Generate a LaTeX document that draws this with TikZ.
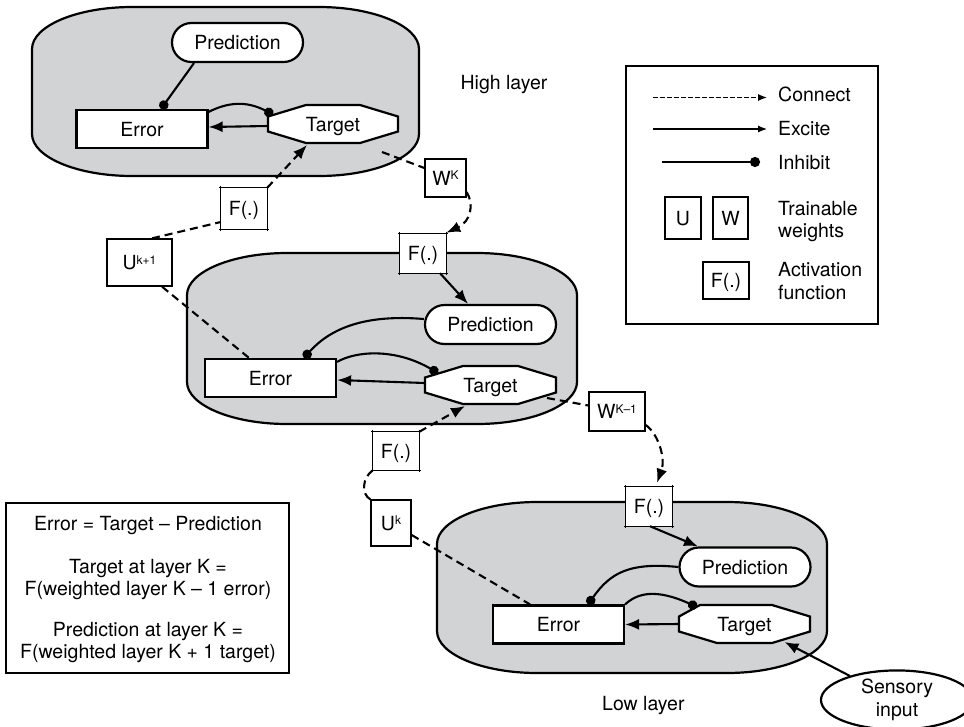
\documentclass[tikz,border=0pt]{standalone}
\usepackage{fontspec}
\setmainfont{TeX Gyre Heros}
\usetikzlibrary{arrows.meta,calc,shapes.misc,shapes.geometric}
\definecolor{layergray}{RGB}{209,211,212}

% small raised index for the weight labels
\newcommand\sups[1]{\raisebox{5.5pt}{\fontsize{12}{12}\selectfont #1}}

% grey layer panel: x0 y0 x1 y1 (y grows downwards)
\newcommand\layershape[4]{%
  \draw[layer] ({#1+100},#2) -- ({#3-100},#2)
    .. controls ({#3-45},#2) and (#3,{#2+19}) .. (#3,{#2+42})
    -- (#3,{#4-42})
    .. controls (#3,{#4-19}) and ({#3-45},#4) .. ({#3-100},#4)
    -- ({#1+100},#4)
    .. controls ({#1+45},#4) and (#1,{#4-19}) .. (#1,{#4-42})
    -- (#1,{#2+42})
    .. controls (#1,{#2+19}) and ({#1+45},#2) .. ({#1+100},#2) -- cycle;}

% octagonal target unit: name, cx, cy, half width, upper-left slant
\newcommand\targetshape[5]{%
  \draw[nodeline, fill=white]
    ({#2-#4+#5},{#3-19}) -- ({#2+#4-38},{#3-19}) -- ({#2+#4},{#3-7.5})
    -- ({#2+#4},{#3+7.5}) -- ({#2+#4-38},{#3+19}) -- ({#2-#4+38},{#3+19})
    -- ({#2-#4},{#3+7.5}) -- ({#2-#4},{#3-7.5}) -- cycle;
  \node[tgtn, minimum width={2*#4pt}] (#1) at (#2,#3) {Target};}

% activation box outline with slightly overshooting corners
\newcommand\actedges[1]{%
  \foreach \a/\b in {north west/north east, north east/south east,
                     south east/south west, south west/north west}
    \draw[line width=1.3pt, shorten <=-2pt, shorten >=-2pt] (#1.\a) -- (#1.\b);}

\begin{document}
\begin{tikzpicture}[x=1pt, y=-1pt,
  every node/.style={font=\fontsize{19.5}{23}\selectfont, inner sep=0pt},
  boxtext/.style={text height=14pt, text depth=0pt},
  nodeline/.style={line width=2.2pt},
  layer/.style={draw, line width=2.2pt, fill=layergray},
  errn/.style={draw, nodeline, fill=white, minimum width=131pt, minimum height=38pt, boxtext},
  predn/.style={rounded rectangle, draw, nodeline, fill=white, minimum width=131pt, minimum height=39pt, boxtext},
  tgtn/.style={minimum height=38pt, boxtext},
  wn/.style={draw, line width=1.3pt, fill=white, boxtext},
  fn/.style={fill=white, boxtext},
  tip/.style={-{Latex[length=14pt,width=11pt]}},
  conn/.style={line width=2.1pt, dash pattern=on 8pt off 5pt},
  excite/.style={line width=2.1pt, tip},
  inhibit/.style={line width=2.1pt, -{Circle[length=9.5pt]}}
]
\useasboundingbox (0,0) rectangle (964,726);

% ---------- layer panels ----------
\layershape{32}{7}{419}{176}
\layershape{187}{253}{577}{424}
\layershape{437}{502}{827}{673}

% ---------- high layer ----------
\node[predn] (p1) at (237.5,42.5) {Prediction};
\node[errn] (e1) at (142,129) {Error};
\targetshape{t1}{333}{124}{65}{38}

% ---------- middle layer ----------
\node[predn] (p2) at (490.5,324.5) {Prediction};
\node[errn] (e2) at (270.5,378) {Error};
\targetshape{t2}{490.5}{385}{65.5}{38}

% ---------- low layer ----------
\node[predn] (p3) at (745,567) {Prediction};
\node[errn] (e3) at (558.5,624.5) {Error};
\targetshape{t3}{744.5}{624}{65.5}{21}

\node[ellipse, draw, nodeline, fill=white, minimum width=152pt, minimum height=56pt, align=center] (sens) at (897,700) {Sensory\\input};

% ---------- weights ----------
\node[wn, minimum width=65pt, minimum height=47pt] (u1) at (139.5,262.5) {U\sups{k+1}};
\node[wn, minimum width=41pt, minimum height=38pt] (w1) at (445.5,178) {W\sups{K}};
\node[wn, minimum width=56pt, minimum height=39pt] (w2) at (617,411.5) {W\sups{K–1}};
\node[wn, minimum width=40pt, minimum height=46pt] (u2) at (391,523) {U\sups{k}};

% ---------- activation functions ----------
\node[fn, minimum width=46pt, minimum height=41pt] (f1) at (244,208.5) {F(.)};
\node[fn, minimum width=46pt, minimum height=39pt] (f2) at (423,253.5) {F(.)};
\node[fn, minimum width=46pt, minimum height=38pt] (f3) at (396,451) {F(.)};
\node[fn, minimum width=46pt, minimum height=39pt] (f4) at (649,506.5) {F(.)};
\actedges{f1}
\actedges{f2}
\actedges{f3}
\actedges{f4}

% ---------- connections inside the high layer ----------
\draw[inhibit] ($(p1.south)+(-43.5,0)$) -- ($(e1.north)+(19,0)$);
\draw[inhibit] ($(e1.north east)+(0,3)$) .. controls +(18,-9) and +(-28,-14.5) .. ($(t1.center)+(-60,-9.5)$);
\draw[excite] ($(t1.west)+(0,2)$) -- ($(e1.east)+(0,-2)$);

% ---------- connections inside the middle layer ----------
\draw[excite] ($(f2.south)+(17,0)$) -- ($(p2.north)+(-22.5,0)$);
\draw[inhibit] ($(p2.west)+(0,-5.5)$) .. controls +(-60,-5) and +(26,-29) .. ($(e2.north)+(33.5,0)$);
\draw[inhibit] ($(e2.north east)+(0,4)$) .. controls +(19,-11) and +(-43,-25) .. ($(t2.center)+(-52.5,-12)$);
\draw[excite] ($(t2.west)+(0,-2)$) -- ($(e2.east)+(0,2)$);

% ---------- connections inside the low layer ----------
\draw[excite] ($(f4.south)+(1,0)$) -- ($(p3.north)+(-47,0)$);
\draw[inhibit] (p3.west) .. controls +(-50,-5) and +(22,-31) .. ($(e3.north)+(29.5,0)$);
\draw[inhibit] (e3.north east) .. controls +(12,-11) and +(-42,-19) .. ($(t3.center)+(-47.5,-17)$);
\draw[excite] (t3.west) -- (e3.east);
\draw[excite] ($(sens.center)+(-47,-24)$) -- ($(t3.center)+(40,18)$);

% ---------- connections between layers ----------
\draw[conn,tip] (f1.north east) -- ($(t1.center)+(-26,21)$);
\draw[conn] ($(u1.north)+(12.5,0)$) -- ($(f1.west)+(0,13.5)$);
\draw[conn] ($(u1.south)+(22.5,0)$) -- ($(e2.north)+(-21.5,0)$);
\draw[conn] ($(t1.center)+(49,28)$) -- ($(w1.west)+(0,-10)$);
\draw[conn,tip] ($(w1.east)+(0,14)$) .. controls +(8,13) and +(24,-11) .. ($(f2.north east)+(0,-1)$);

\draw[conn,tip] (f3.north east) -- ($(t2.center)+(-25.5,21)$);
\draw[conn] ($(t2.center)+(56.5,13)$) -- ($(w2.west)+(0,-6)$);
\draw[conn,tip] ($(w2.east)+(0,13.5)$) .. controls +(12,8) and +(9,-25) .. ($(f4.north)+(8,-4)$);
\draw[conn] (f3.south west) .. controls +(-11,8) and +(-9,-5) .. (u2.north west);
\draw[conn] ($(u2.east)+(0,12)$) -- ($(e3.north)+(-28.5,0)$);

% ---------- layer captions ----------
\node[anchor=base] (hl) at (504,89.5) {High layer};
\node[anchor=base west] (ll) at (602,710.5) {Low layer};

% ---------- legend ----------
\node[draw, line width=1.3pt, minimum width=252pt, minimum height=258pt] (legend) at (752,195) {};
\coordinate (lc1) at (653,97.5);
\coordinate (lc2) at (767,97.5);
\draw[line width=1.2pt, dash pattern=on 4.5pt off 2.5pt, -{Latex[length=9pt,width=7pt]}] (lc1) -- (lc2);
\coordinate (le1) at (653,129);
\coordinate (le2) at (767,129);
\draw[line width=1.2pt, -{Latex[length=9pt,width=7pt]}] (le1) -- (le2);
\coordinate (li1) at (662,162);
\coordinate (li2) at (760,162);
\draw[line width=2.6pt, -{Circle[length=10pt]}] (li1) -- (li2);
\node[anchor=base west] (tcon) at (778,101.5) {Connect};
\node[anchor=base west] (texc) at (778,135.5) {Excite};
\node[anchor=base west] (tinh) at (778,169) {Inhibit};
\node[wn, minimum width=36pt, minimum height=42pt] (lu) at (683,218) {U};
\node[wn, minimum width=35pt, minimum height=42pt] (lw) at (730.5,218) {W};
\node[anchor=base west] (ttr1) at (778,215) {Trainable};
\node[anchor=base west] (ttr2) at (778,237) {weights};
\node[wn, minimum width=46pt, minimum height=37pt] (lf) at (726,280.5) {F(.)};
\node[anchor=base west] (tac1) at (778,276.5) {Activation};
\node[anchor=base west] (tac2) at (778,299) {function};

% ---------- equations ----------
\node[draw, line width=1.5pt, minimum width=283pt, minimum height=170pt] (eqbox) at (147.5,588) {};
\node[anchor=base] (q1) at (148,530.5) {Error = Target – Prediction};
\node[anchor=base] (q2) at (148,573) {Target at layer K =};
\node[anchor=base] (q3) at (148,595) {F(weighted layer K – 1 error)};
\node[anchor=base] (q4) at (148,636) {Prediction at layer K =};
\node[anchor=base] (q5) at (148,658) {F(weighted layer K + 1 target)};
\end{tikzpicture}
\end{document}
